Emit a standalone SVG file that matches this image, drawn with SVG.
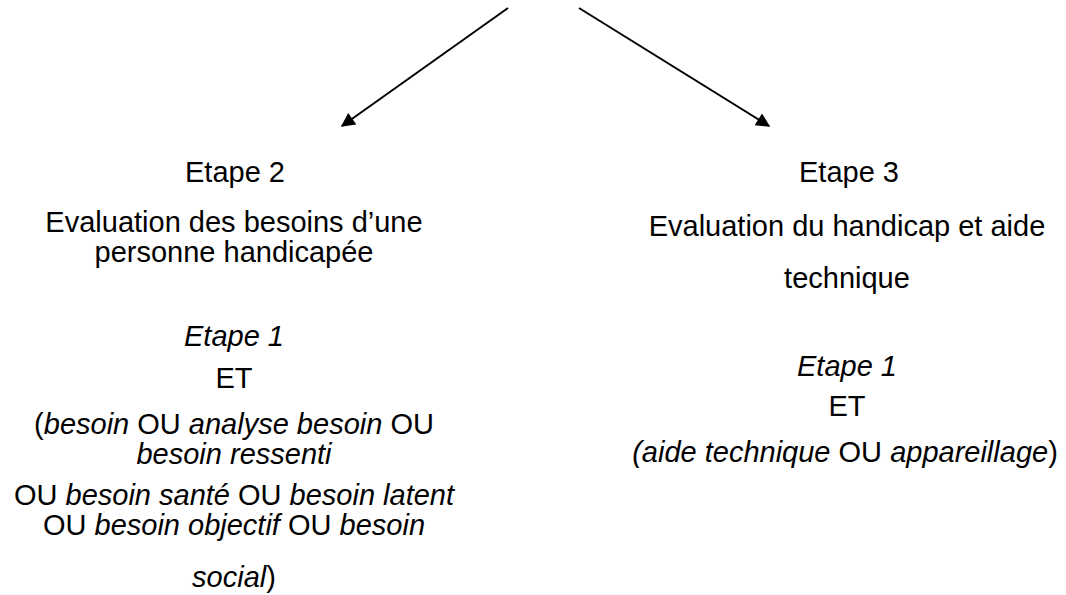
<svg xmlns="http://www.w3.org/2000/svg" width="1066" height="595" viewBox="0 0 1066 595">
<style>
text{font-family:"Liberation Sans",Arial,sans-serif;font-size:29px;fill:#000;text-anchor:middle}
.i{font-style:italic}
.c{stroke:#000;stroke-width:2;fill:none}
</style>
<defs>
<marker id="ah" viewBox="0 0 10 10" refX="9" refY="5" markerWidth="9" markerHeight="7" markerUnits="strokeWidth" orient="auto">
<path d="M0,0 L10,5 L0,10 z" fill="#000"/>
</marker>
</defs>
<rect width="1066" height="595" fill="#fff"/>
<g id="connectors">
<line class="c" x1="508" y1="8" x2="342" y2="126" marker-end="url(#ah)"/>
<line class="c" x1="579" y1="8" x2="769" y2="126" marker-end="url(#ah)"/>
</g>
<g id="etape2">
<text x="235" y="182">Etape 2</text>
<text x="234" y="232">Evaluation des besoins d’une</text>
<text x="234" y="262">personne handicapée</text>
<text x="234" y="346" class="i">Etape 1</text>
<text x="234" y="388">ET</text>
<text x="234" y="434">(<tspan class="i">besoin</tspan> OU <tspan class="i">analyse besoin</tspan> OU</text>
<text x="234" y="464" class="i">besoin ressenti</text>
<text x="234" y="505">OU <tspan class="i">besoin santé</tspan> OU <tspan class="i">besoin latent</tspan></text>
<text x="234" y="535">OU <tspan class="i">besoin objectif</tspan> OU <tspan class="i">besoin</tspan></text>
<text x="234" y="587"><tspan class="i">social</tspan>)</text>
</g>
<g id="etape3">
<text x="849" y="182">Etape 3</text>
<text x="847" y="236">Evaluation du handicap et aide</text>
<text x="847" y="288">technique</text>
<text x="847" y="376" class="i">Etape 1</text>
<text x="847" y="416">ET</text>
<text x="845" y="462"><tspan class="i">(aide technique</tspan> OU <tspan class="i">appareillage</tspan>)</text>
</g>
</svg>
